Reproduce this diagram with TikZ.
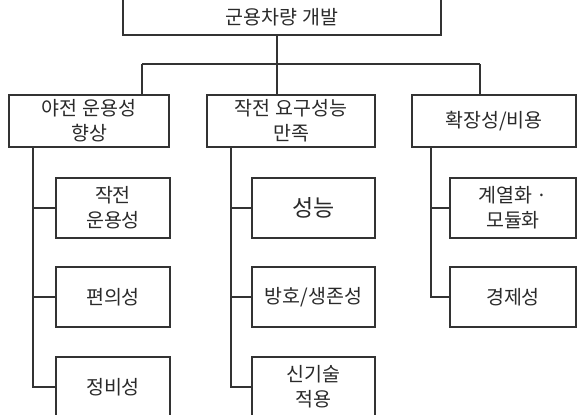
\documentclass[tikz,border=0pt]{standalone}
\usepackage{fontspec}
\newfontfamily\kr{Noto Sans CJK KR}
\definecolor{ln}{HTML}{333333}
\definecolor{tx}{HTML}{2A2A2A}
\begin{document}
\begin{tikzpicture}[x=1pt,y=-1pt,
  box/.style={draw=ln, line width=1.2pt, fill=white, rectangle, inner sep=0pt,
    align=center, text=tx, font=\kr\fontsize{19.5}{25}\selectfont},
  conn/.style={draw=ln, line width=1.2pt}]
\useasboundingbox (0,0) rectangle (581,415);
\clip (0,0) rectangle (581,415);
% level 1
\node[box, minimum width=318pt, minimum height=36pt] (top) at (282,17) {군용차량 개발};
% level 2
\node[box, minimum width=160pt, minimum height=52pt] (la) at (89,121) {야전 운용성\\향상};
\node[box, minimum width=168pt, minimum height=52pt] (lb) at (291,121) {작전 요구성능\\만족};
\node[box, minimum width=164pt, minimum height=52pt] (lc) at (494,121) {확장성/비용};
% level 3
\node[box, minimum width=114pt, minimum height=60pt] (a1) at (113,208) {작전\\운용성};
\node[box, minimum width=114pt, minimum height=60pt] (a2) at (113,297) {편의성};
\node[box, minimum width=114pt, minimum height=60pt] (a3) at (113,387) {정비성};
\node[box, minimum width=123pt, minimum height=60pt, font=\kr\fontsize{23}{28}\selectfont] (b1) at (313.5,208) {성능};
\node[box, minimum width=123pt, minimum height=60pt] (b2) at (313.5,297) {방호/생존성};
\node[box, minimum width=123pt, minimum height=60pt] (b3) at (313.5,387) {신기술\\적용};
\node[box, minimum width=126pt, minimum height=60pt] (c1) at (513,208) {계열화 ·\\모듈화};
\node[box, minimum width=126pt, minimum height=60pt] (c2) at (513,297) {경제성};
% junctions
\coordinate (j) at (277,64);
\coordinate (ha) at (142,64);
\coordinate (hc) at (480,64);
\coordinate (ta) at (33,147);
\coordinate (tb) at (231,147);
\coordinate (tc) at (431,147);
% connectors
\draw[conn] (top.south -| j) -- (j |- lb.north);
\draw[conn] (ha) -- (hc);
\draw[conn] (ha) -- (ha |- la.north);
\draw[conn] (hc) -- (hc |- lc.north);
\draw[conn] (ta) |- (a3.west);
\draw[conn] (ta |- a1.west) -- (a1.west);
\draw[conn] (ta |- a2.west) -- (a2.west);
\draw[conn] (tb) |- (b3.west);
\draw[conn] (tb |- b1.west) -- (b1.west);
\draw[conn] (tb |- b2.west) -- (b2.west);
\draw[conn] (tc) |- (c2.west);
\draw[conn] (tc |- c1.west) -- (c1.west);
\end{tikzpicture}
\end{document}
